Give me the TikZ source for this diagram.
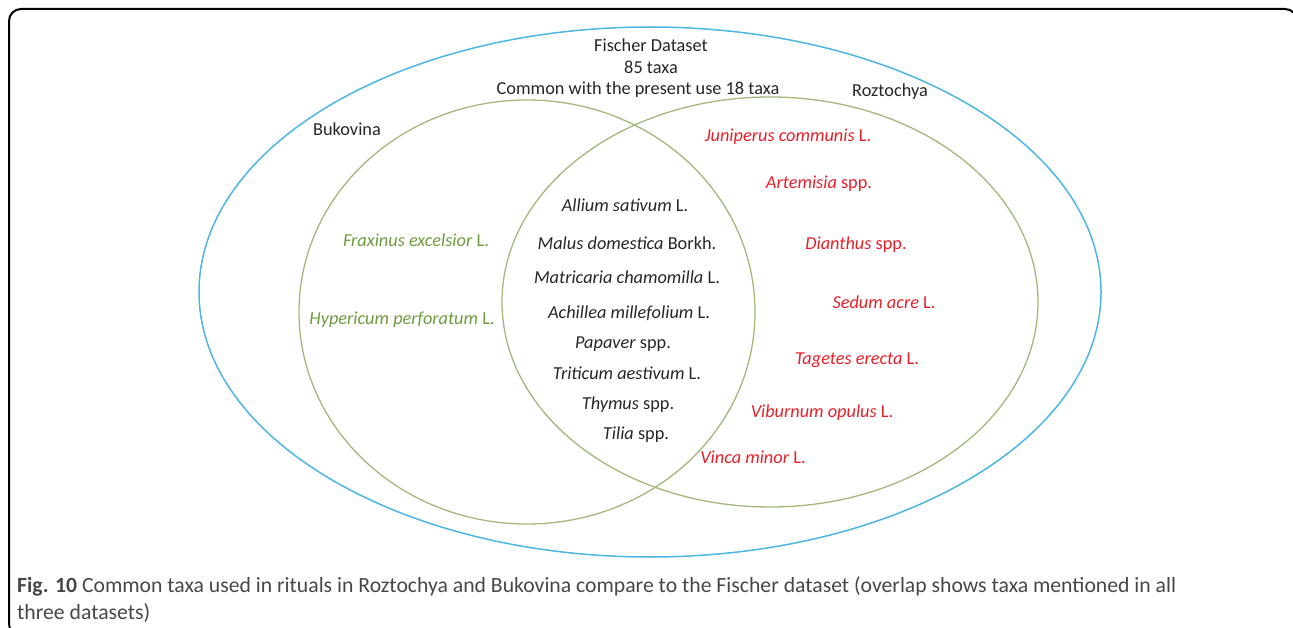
\documentclass[tikz,border=0pt]{standalone}
\usepackage{fontspec}
\setmainfont{Carlito}
\definecolor{fischerblue}{HTML}{4DB6E2}
\definecolor{ringgreen}{HTML}{A2B87C}
\definecolor{bukgreen}{HTML}{6E9B3E}
\definecolor{rozred}{HTML}{E8202A}
\definecolor{inkgray}{HTML}{262626}

\begin{document}
\begin{tikzpicture}[x=1pt, y=-1pt,
    taxon/.style={text=inkgray, inner sep=0pt, font=\fontsize{18.3}{22}\selectfont},
    bukov/.style={taxon, text=bukgreen},
    rozto/.style={taxon, text=rozred},
    ring/.style={draw=ringgreen, line width=1.3pt},
    captext/.style={text=inkgray!85, inner sep=0pt, anchor=base west, font=\fontsize{21.7}{26}\selectfont}]

  \useasboundingbox (0,0) rectangle (1293,628);
  \clip (0,0) rectangle (1293,628);

  % frame (cut off at the right and bottom)
  \draw[line width=2pt, rounded corners=12pt] (9,9) rectangle (1297,636);

  % the three sets
  \draw[draw=fischerblue, line width=1.5pt] (650,292) ellipse [x radius=451, y radius=265];
  \draw[ring] (527,312) ellipse [x radius=228, y radius=212];
  \draw[ring] (770,302) ellipse [x radius=268, y radius=205];

  % set titles
  \node (fischer) [taxon] at (651,45) {Fischer Dataset};
  \node (total) [taxon] at (651,67) {85 taxa};
  \node (common) [taxon] at (638,90) {Common with the present use 18 taxa};
  \node (bukovina) [taxon] at (347,129) {Bukovina};
  \node (roztochya) [taxon] at (890,92) {Roztochya};

  % Bukovina only
  \node (fraxinus) [bukov] at (416,240) {\textit{Fraxinus excelsior} L.};
  \node (hypericum) [bukov] at (402,320) {\textit{Hypericum perforatum} L.};

  % overlap
  \node (allium) [taxon] at (625,205) {\textit{Allium sativum} L.};
  \node (malus) [taxon] at (627,243) {\textit{Malus domestica} Borkh.};
  \node (matricaria) [taxon] at (627,277) {\textit{Matricaria chamomilla} L.};
  \node (achillea) [taxon] at (629,313) {\textit{Achillea millefolium} L.};
  \node (papaver) [taxon] at (623,344) {\textit{Papaver} spp.};
  \node (triticum) [taxon] at (627,373) {\textit{Triticum aestivum} L.};
  \node (thymus) [taxon] at (628,405) {\textit{Thymus} spp.};
  \node (tilia) [taxon] at (636,435) {\textit{Tilia} spp.};

  % Roztochya only
  \node (juniperus) [rozto] at (788,137) {\textit{Juniperus communis} L.};
  \node (artemisia) [rozto] at (819,184) {\textit{Artemisia} spp.};
  \node (dianthus) [rozto] at (856,245) {\textit{Dianthus} spp.};
  \node (sedum) [rozto] at (884,302) {\textit{Sedum acre} L.};
  \node (tagetes) [rozto] at (857,360) {\textit{Tagetes erecta} L.};
  \node (viburnum) [rozto] at (822,413) {\textit{Viburnum opulus} L.};
  \node (vinca) [rozto] at (753,457) {\textit{Vinca minor} L.};

  % caption
  \node (capfirst) [captext] at (17,592) {\textbf{Fig. 10} Common taxa used in rituals in Roztochya and Bukovina compare to the Fischer dataset (overlap shows taxa mentioned in all};
  \node (capsecond) [captext] at (17,619) {three datasets)};
\end{tikzpicture}
\end{document}
